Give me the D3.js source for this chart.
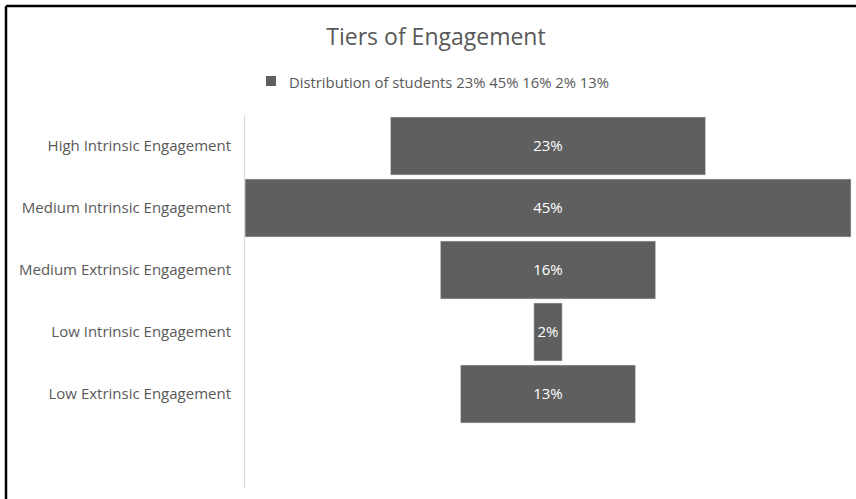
<!DOCTYPE html>
<html>
<head>
<meta charset="utf-8">
<script src="https://cdn.jsdelivr.net/npm/d3@7"></script>
<style>
  html, body { margin: 0; padding: 0; background: #fff; }
  svg { display: block; font-family: "Open Sans", "Noto Sans", sans-serif; }
</style>
</head>
<body>
<svg id="chart" width="856" height="499"></svg>
<script>
const categories = [
  "High Intrinsic Engagement",
  "Medium Intrinsic Engagement",
  "Medium Extrinsic Engagement",
  "Low Intrinsic Engagement",
  "Low Extrinsic Engagement"
];
const values = [23.4, 45, 16, 2.1, 13];
const valueLabels = ["23%", "45%", "16%", "2%", "13%"];
const seriesName = "Distribution of students 23% 45% 16% 2% 13%";
const title = "Tiers of Engagement";

const svg = d3.select("#chart");
const W = 856, H = 499;
const barColor = "#5f5f5f";
const textColor = "#595959";

// outer border (top and left visible)
svg.append("line").attr("x1", 6).attr("x2", W).attr("y1", 6).attr("y2", 6)
  .attr("stroke", "#000").attr("stroke-width", 2.5);
svg.append("line").attr("x1", 6).attr("x2", 6).attr("y1", 6).attr("y2", H)
  .attr("stroke", "#000").attr("stroke-width", 2.5);

// title
svg.append("text").attr("x", 436).attr("y", 45)
  .attr("text-anchor", "middle").attr("font-size", 23).attr("fill", textColor)
  .text(title);

// legend
svg.append("rect").attr("x", 266).attr("y", 76).attr("width", 10).attr("height", 10)
  .attr("fill", barColor);
svg.append("text").attr("x", 289).attr("y", 88).attr("font-size", 14.8)
  .attr("fill", textColor).text(seriesName);

// plot area
const plotLeft = 245, plotRight = 851, plotTop = 115;
const y = d3.scaleBand().domain(categories).range([plotTop, plotTop + 62 * categories.length])
  .paddingInner(4 / 62).paddingOuter(2 / 62);
const w = d3.scaleLinear().domain([0, d3.max(values)]).range([0, plotRight - plotLeft]);
const cx = (plotLeft + plotRight) / 2;

// axis line
svg.append("line").attr("x1", plotLeft - 0.5).attr("x2", plotLeft - 0.5)
  .attr("y1", plotTop).attr("y2", 488).attr("stroke", "#d9d9d9").attr("stroke-width", 1);

// category labels
const yAxis = d3.axisLeft(y).tickSize(0).tickPadding(14);
const ax = svg.append("g").attr("transform", `translate(${plotLeft},0)`).call(yAxis);
ax.select(".domain").remove();
ax.selectAll("text").attr("font-size", 15).attr("fill", textColor)
  .attr("font-family", "'Open Sans', 'Noto Sans', sans-serif");

// bars
const data = categories.map((c, i) => ({ c, v: values[i], l: valueLabels[i] }));
svg.selectAll("rect.bar").data(data).enter().append("rect")
  .attr("class", "bar")
  .attr("x", d => cx - w(d.v) / 2)
  .attr("y", d => y(d.c))
  .attr("width", d => w(d.v))
  .attr("height", y.bandwidth())
  .attr("fill", barColor)
  .attr("stroke", "#e0e0e0").attr("stroke-width", 0.6);

svg.selectAll("text.val").data(data).enter().append("text")
  .attr("class", "val")
  .attr("x", cx)
  .attr("y", d => y(d.c) + y.bandwidth() / 2)
  .attr("dy", "0.35em")
  .attr("text-anchor", "middle")
  .attr("font-size", 15).attr("fill", "#ffffff")
  .text(d => d.l);
</script>
</body>
</html>
